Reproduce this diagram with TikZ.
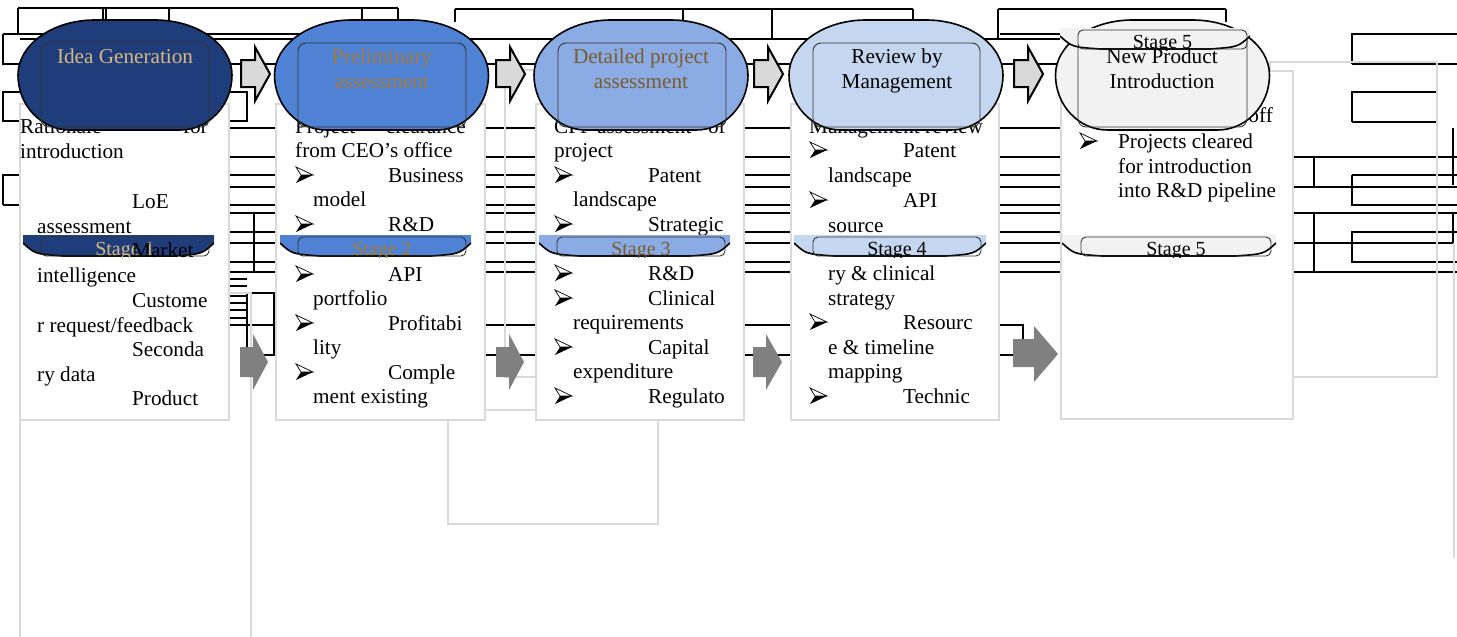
\documentclass[tikz,border=0pt]{standalone}
\usepackage{fontspec}
\setmainfont{Liberation Serif}
\usetikzlibrary{positioning}

\definecolor{stageA}{RGB}{31,61,122}
\definecolor{stageB}{RGB}{79,129,213}
\definecolor{stageC}{RGB}{138,171,227}
\definecolor{stageD}{RGB}{197,214,240}
\definecolor{stageE}{RGB}{242,242,242}
\definecolor{tanA}{RGB}{214,184,128}
\definecolor{tanB}{RGB}{160,124,63}
\definecolor{tanC}{RGB}{122,92,48}
\definecolor{frame}{RGB}{217,217,217}
\definecolor{arrowlight}{RGB}{217,217,217}
\definecolor{arrowgray}{RGB}{128,128,128}

\begin{document}
\begin{tikzpicture}[x=1pt, y=-1pt,
    tline/.style={black, line width=1.1pt},
    bline/.style={black, line width=2.6pt},
    frameline/.style={draw=frame, line width=2.6pt},
    txtbox/.style={draw=frame, line width=2.6pt, fill=white, inner sep=0pt},
    stadium/.style={draw=black, line width=1.6pt},
    innerrect/.style={draw=black!80, line width=0.9pt, rounded corners=8pt},
    blockarrow/.style={fill=arrowlight, draw=black, line width=2pt},
    flowarrow/.style={fill=arrowgray},
    txt/.style={anchor=base west, inner sep=0pt, font=\fontsize{21.2}{24.7}\selectfont},
    txtr/.style={txt, anchor=base east},
    ttl/.style={anchor=base, inner sep=0pt, font=\fontsize{21.2}{24.7}\selectfont}]

        \useasboundingbox (0,0) rectangle (1457,637);
        \fill[white] (0,0) rectangle (1457,637);

        % table rules left behind the chart
        \draw[bline] (18,8) -- (398,8);
        \draw[tline] (18,8) -- (18,34) (103,8) -- (103,20) (106,8) -- (106,20) (169,8) -- (169,20) (362,8) -- (362,20) (398,8) -- (398,20);
        \draw[bline] (455,9) -- (913,9);
        \draw[tline] (455,9) -- (455,22) (683,9) -- (683,20) (772,9) -- (772,39) (913,9) -- (913,20);
        \draw[bline] (998,9) -- (1226,9);
        \draw[tline] (998,9) -- (998,39) (1226,9) -- (1226,22);
        \draw[tline] (3,34) -- (460,34) (20,39) -- (1060,39) (1000,34) -- (1060,34);
        \draw[bline] (3,34) -- (3,64) -- (1060,64);

        \draw[tline] (20,92) -- (3,92) -- (3,121) -- (20,121);
        \draw[bline] (20,175) -- (3,175) -- (3,205);
        \draw[tline] (3,205) -- (20,205);
        \draw[tline] (229,92) -- (247,92) -- (247,121) -- (229,121);
        \draw[tline] (254,213) -- (254,273);
        \foreach \y in {279,286,296,303,310,318}
            \draw[tline] (229,\y) -- (247,\y);
        \draw[bline] (247,293) -- (247,355);
        \draw[bline] (250,293) -- (274,293) -- (274,355);

        \foreach \y in {128,157,187,205,213,232,262,272}
            \draw[tline] (229,\y) -- (1061,\y);
        \foreach \y in {175,243}
            \draw[bline] (229,\y) -- (1061,\y);
        \draw[bline] (229,325) -- (1023,325) -- (1023,339);
        \draw[bline] (240,355) -- (1013,355);

        \draw[tline] (1352,64) -- (1352,34) -- (1457,34);
        \draw[bline] (1352,64) -- (1457,64);
        \draw[bline] (1436,92) -- (1352,92) -- (1352,122);
        \draw[tline] (1352,122) -- (1436,122);
        \foreach \y in {157,187,213,272}
            \draw[tline] (1293,\y) -- (1457,\y);
        \draw[bline] (1293,243) -- (1453,243);
        \draw[bline] (1352,175) -- (1457,175);
        \draw[tline] (1314,157) -- (1314,187) (1314,213) -- (1314,272);
        \draw[tline] (1352,175) -- (1352,205) -- (1457,205);
        \draw[tline] (1352,232) rectangle (1460,262);
        \draw[tline] (1453,128) -- (1453,157);
        \draw[bline] (1453,157) -- (1453,185) (1453,213) -- (1453,243);

        % stray grey frames
        \draw[frameline] (1270,62) rectangle (1437,377);
        \draw[frameline] (505,70) rectangle (560,377);
        \draw[frameline] (20,637) -- (20,293) -- (251,293) -- (251,637);
        \draw[frameline] (448,410) rectangle (658,524);
        \draw[frameline] (1454,243) -- (1454,558);

        % text boxes
        \node[txtbox, minimum width=209pt, minimum height=316pt] (b1) at (124.5,262) {};
        \node[txtbox, minimum width=209pt, minimum height=316pt] (b2) at (380.5,262) {};
        \node[txtbox, minimum width=208pt, minimum height=316pt] (b3) at (640,262) {};
        \node[txtbox, minimum width=208pt, minimum height=316pt] (b4) at (895,262) {};
        \node[txtbox, minimum width=232pt, minimum height=348pt] (b5) at (1177,245) {};

        \foreach \x/\y/\t [count=\i] in {20/133/Rationale, 20/158/introduction, 132/208/LoE, 37/233/assessment, 37/282/intelligence, 132/307/Custome, 37/332/{r request/feedback}, 132/356/Seconda, 37/381/ry data, 132/405/Product}
            \node[txt] (b1-\i) at (\x,\y) {\t};
        \foreach \x/\y/\t [count=\i] in {295/133/Project, 295/157/from CEO's office, 388/182/Business, 313/206/model, 388/231/R\&D, 388/281/API, 313/305/portfolio, 388/330/Profitabi, 313/354/lity, 388/379/Comple, 313/403/ment existing}
            \node[txt] (b2-\i) at (\x,\y) {\t};
        \foreach \x/\y/\t [count=\i] in {554/133/CPP assessment, 554/157/project, 648/182/Patent, 573/206/landscape, 648/231/Strategic, 648/280/R\&D, 648/305/Clinical, 573/329/requirements, 648/354/Capital, 573/378/expenditure, 648/403/Regulato}
            \node[txt] (b3-\i) at (\x,\y) {\t};
        \foreach \x/\y/\t [count=\i] in {809/133/Management review, 903/157/Patent, 828/182/landscape, 903/207/API, 828/232/source, 828/280/ry \& clinical, 828/305/strategy, 903/329/Resourc, 828/354/e \& timeline, 828/378/mapping, 903/403/Technic}
            \node[txt] (b4-\i) at (\x,\y) {\t};
        \foreach \x/\y/\t [count=\i] in {1118/148/Projects cleared, 1118/173/for introduction, 1118/197/into R\&D pipeline}
            \node[txt] (b5-\i) at (\x,\y) {\t};
        \foreach \x/\y/\t [count=\i] in {208/133/for, 466/133/clearance, 726/133/of, 1273/122/off}
            \node[txtr] (r-\i) at (\x,\y) {\t};

        % arrowhead bullets: light upper half, black lower half
        \foreach \x/\y in {296/182, 296/231, 296/281, 296/330, 296/379, 555/182, 555/231, 555/280, 555/305, 555/354, 555/403, 810/157, 810/207, 810/329, 810/403, 1080/148}
        {
            \draw[line width=0.7pt, fill=white] (\x,{\y-15}) -- ({\x+17},{\y-7}) -- ({\x+5},{\y-7}) -- cycle;
            \fill[black] ({\x+5},{\y-7}) -- ({\x+17},{\y-7}) -- (\x,{\y+1}) -- cycle;
        }

        % grey arrows between the boxes
        \foreach \xa/\xh/\xt/\ya/\yb/\yc/\yd in {240/253/268/347/377/334/390, 496/509/524/347/377/334/390, 753/766/782/347/377/334/390, 1013/1034/1058/339/367/326/382}
            \fill[flowarrow] (\xa,\ya) -- (\xh,\ya) -- (\xh,\yc) -- (\xt,{(\yc+\yd)/2}) -- (\xh,\yd) -- (\xh,\yb) -- (\xa,\yb) -- cycle;

        % block arrows between the ovals
        \foreach \xa in {241,496,754,1014}
            \draw[blockarrow] (\xa,60) -- ({\xa+14},60) -- ({\xa+14},47) -- ({\xa+29},74) -- ({\xa+14},101) -- ({\xa+14},87) -- (\xa,87) -- cycle;

        % ovals
        \foreach \cx/\col in {125/stageA, 381.5/stageB, 641/stageC, 896/stageD, 1162.5/stageE}
            \draw[stadium, fill=\col] ({\cx-30},20) -- ({\cx+30},20)
                arc[start angle=90, end angle=0, x radius=77pt, y radius=55pt]
                arc[start angle=0, end angle=-90, x radius=52pt, y radius=55pt]
                -- ({\cx-55},130)
                arc[start angle=270, end angle=180, x radius=52pt, y radius=55pt]
                arc[start angle=180, end angle=90, x radius=77pt, y radius=55pt] -- cycle;
        \foreach \xi/\xj/\ya in {41/209/43, 298/466/43, 558/726/43, 813/980/43, 1078/1247/32}
            \draw[innerrect] (\xi,\ya) rectangle (\xj,127);

        % stage tags
        \foreach \xa/\xb/\xi/\xj/\yt/\col/\tc/\n in {23/214/41/209/235/stageA/tanA/1, 280/471/298/466/235/stageB/tanB/2, 539/730/557/725/235/stageC/tanC/3, 794/986/813/981/235/stageD/black/4, 1062/1276/1081/1271/235/stageE/black/5, 1060/1250/1078/1247/28/stageE/black/5}
        {
            \begin{scope}
                \clip (\xa,{\yt-2}) rectangle (\xb,{\yt+22});
                \fill[\col] (\xa,\yt) -- (\xb,\yt) -- (\xb,{\yt+8}) .. controls ({\xb-12},{\yt+19}) .. ({\xb-40},{\yt+21}) -- ({\xa+40},{\yt+21}) .. controls ({\xa+12},{\yt+19}) .. (\xa,{\yt+8}) -- cycle;
                \draw[line width=1.6pt] (\xb,{\yt+8}) .. controls ({\xb-12},{\yt+19}) .. ({\xb-40},{\yt+21}) -- ({\xa+40},{\yt+21}) .. controls ({\xa+12},{\yt+19}) .. (\xa,{\yt+8});
                \draw[innerrect, rounded corners=5pt] (\xi,{\yt+2}) rectangle (\xj,{\yt+21});
                \node[ttl, text=\tc, font=\fontsize{20}{24}\selectfont] (s\n-\yt) at ({(\xi+\xj)/2},{\yt+20}) {Stage \n};
            \end{scope}
        }
        \node[txt] (b1-mk) at (132,257) {Market};

        % oval titles
        \node[ttl, text=tanA] (t1) at (125,63) {Idea Generation};
        \node[ttl, text=tanB] (t2) at (382,63) {Preliminary};
        \node[ttl, text=tanB] (t2b) at (382,88) {assessment};
        \node[ttl, text=tanC] (t3) at (641,63) {Detailed project};
        \node[ttl, text=tanC] (t3b) at (641,88) {assessment};
        \node[ttl] (t4) at (897,63) {Review by};
        \node[ttl] (t4b) at (897,88) {Management};
        \node[ttl] (t5) at (1162,63) {New Product};
        \node[ttl] (t5b) at (1162,88) {Introduction};

\end{tikzpicture}
\end{document}
